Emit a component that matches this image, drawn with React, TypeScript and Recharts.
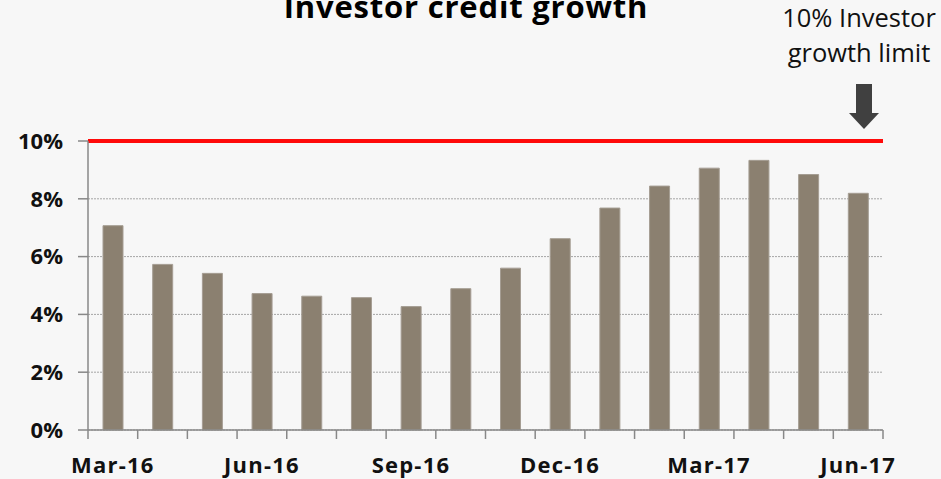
import { BarChart, Bar, XAxis, YAxis, CartesianGrid, ReferenceLine } from 'recharts'

const months = [
  'Mar-16', 'Apr-16', 'May-16', 'Jun-16', 'Jul-16', 'Aug-16', 'Sep-16', 'Oct-16',
  'Nov-16', 'Dec-16', 'Jan-17', 'Feb-17', 'Mar-17', 'Apr-17', 'May-17', 'Jun-17',
]
const growth = [7.07, 5.73, 5.42, 4.72, 4.63, 4.58, 4.27, 4.89, 5.6, 6.62, 7.68, 8.44, 9.06, 9.33, 8.84, 8.19]
const yTicks = [0, 2, 4, 6, 8, 10]
const limit = 10

const W = 941
const H = 479
const M = { top: 141, right: 58, bottom: 0, left: 0 }
const Y_W = 88
const X_H = 49
const BAND = (W - M.left - M.right - Y_W) / months.length

const data = months.map((m, i) => ({ month: m, value: growth[i] }))

const font = '"Open Sans", sans-serif'

// ticks sit on the category boundaries, labels only every quarter
function MonthTick(props: any) {
  const { x, y, payload, index } = props
  const left = x - BAND / 2
  const last = index === months.length - 1
  return (
    <g>
      <line x1={left} y1={y} x2={left} y2={y + 9} stroke="#888" strokeWidth={1.5} />
      {last && <line x1={x + BAND / 2} y1={y} x2={x + BAND / 2} y2={y + 9} stroke="#888" strokeWidth={1.5} />}
      {index % 3 === 0 && (
        <text x={x} y={y + 43} textAnchor="middle" fontFamily={font} fontWeight={700} fontSize={22} letterSpacing={1.2} fill="#111">
          {payload.value}
        </text>
      )}
    </g>
  )
}

export default function App() {
  return (
    <div style={{ position: 'absolute', top: 0, left: 0, width: W, height: H, background: '#f7f7f7', overflow: 'hidden' }}>
      <div style={{ position: 'absolute', left: 0, width: 932, top: -15, textAlign: 'center', fontFamily: font, fontWeight: 700, fontSize: 31, letterSpacing: 0.8, color: '#000', whiteSpace: 'nowrap' }}>
        Investor credit growth
      </div>
      <div style={{ position: 'absolute', left: 759, width: 200, top: 0, textAlign: 'center', fontFamily: font, fontSize: 25.5, lineHeight: '35px', color: '#111', whiteSpace: 'nowrap' }}>
        10% Investor<br />growth limit
      </div>
      <svg style={{ position: 'absolute', left: 0, top: 0 }} width={W} height={H}>
        <rect x={856} y={84} width={16} height={30} fill="#404040" />
        <polygon points="849,113 879,113 864,129" fill="#404040" />
      </svg>
      <div style={{ position: 'absolute', left: 0, top: 0 }}>
        <BarChart width={W} height={H} data={data} margin={M} barSize={20}>
          <CartesianGrid vertical={false} stroke="#a5a5a5" strokeDasharray="2 1" />
          <XAxis
            dataKey="month"
            height={X_H}
            interval={0}
            tickLine={false}
            tickSize={0}
            tickMargin={0}
            axisLine={{ stroke: '#888', strokeWidth: 1.5 }}
            tick={<MonthTick />}
          />
          <YAxis
            width={Y_W}
            domain={[0, 10]}
            ticks={yTicks}
            interval={0}
            tickSize={10}
            tickMargin={15}
            tickLine={{ stroke: '#888', strokeWidth: 1.5 }}
            axisLine={{ stroke: '#888', strokeWidth: 1.5 }}
            tickFormatter={(v) => `${v}%`}
            tick={{ fontFamily: font, fontWeight: 700, fontSize: 22, fill: '#111' }}
          />
          <Bar dataKey="value" fill="#8b8070" stroke="#a59d93" strokeWidth={1} isAnimationActive={false} />
          <ReferenceLine y={limit} stroke="#ff0a0a" strokeWidth={4} />
        </BarChart>
      </div>
    </div>
  )
}
